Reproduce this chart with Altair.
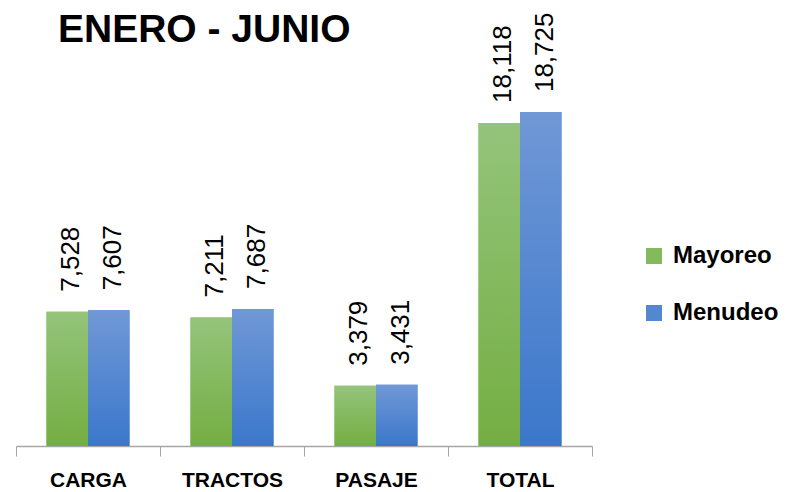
import altair as alt
import pandas as pd

title_text = ["ENERO - JUNIO"]
categories = ["CARGA", "TRACTOS", "PASAJE", "TOTAL"]
series = ["Mayoreo", "Menudeo"]
mayoreo = [7528, 7211, 3379, 18118]
menudeo = [7607, 7687, 3431, 18725]

rows = []
for c, a, b in zip(categories, mayoreo, menudeo):
    rows.append({"cat": c, "serie": "Mayoreo", "valor": a})
    rows.append({"cat": c, "serie": "Menudeo", "valor": b})
df = pd.DataFrame(rows)

FONT = "Liberation Sans"

green_grad = alt.Gradient(gradient="linear", x1=0, x2=0, y1=0, y2=1,
                          stops=[alt.GradientStop(offset=0, color="#94C47B"),
                                 alt.GradientStop(offset=1, color="#74AE42")])
blue_grad = alt.Gradient(gradient="linear", x1=0, x2=0, y1=0, y2=1,
                         stops=[alt.GradientStop(offset=0, color="#7098D6"),
                                alt.GradientStop(offset=1, color="#3B77CA")])

x_enc = alt.X("cat:N", sort=categories,
              scale=alt.Scale(paddingInner=0, paddingOuter=0),
              axis=alt.Axis(title=None, labelAngle=0, labelFont=FONT, labelFontWeight="bold",
                            labelFontSize=21, labelColor="#000000", labelPadding=13,
                            tickBand="extent", tickSize=10, tickColor="#A6A6A6",
                            domainColor="#A6A6A6", domainWidth=1.5))
xo_enc = alt.XOffset("serie:N", sort=series,
                     scale=alt.Scale(paddingInner=0, paddingOuter=0.735))
y_enc = alt.Y("valor:Q", scale=alt.Scale(domain=[0, 24000], nice=False),
              axis=None)

base = alt.Chart(df)

legend_bars = base.mark_bar().encode(
    x=x_enc, xOffset=xo_enc, y=y_enc,
    color=alt.Color("serie:N", sort=series,
                    scale=alt.Scale(domain=series, range=["#85B95E", "#5587D0"]),
                    legend=alt.Legend(title=None, orient="none", legendX=626, legendY=226,
                                      symbolType="square", symbolSize=256,
                                      symbolStrokeWidth=0, labelFont=FONT,
                                      labelFontWeight="bold", labelFontSize=24,
                                      labelColor="#000000", labelOffset=7,
                                      rowPadding=33, padding=0)),
)

grad_m = base.transform_filter(alt.datum.serie == "Mayoreo").mark_bar(color=green_grad).encode(
    x=x_enc, xOffset=xo_enc, y=y_enc)
grad_n = base.transform_filter(alt.datum.serie == "Menudeo").mark_bar(color=blue_grad).encode(
    x=x_enc, xOffset=xo_enc, y=y_enc)

labels = base.mark_text(angle=270, align="left", baseline="middle", dx=20, dy=4,
                        font=FONT, fontSize=26, color="#000000").encode(
    x=x_enc, xOffset=xo_enc, y=y_enc,
    text=alt.Text("valor:Q", format=","))

title = alt.Chart(pd.DataFrame({"t": title_text})).mark_text(
    align="left", baseline="alphabetic", font=FONT, fontSize=39, fontWeight="bold",
    color="#000000").encode(text="t:N", x=alt.value(42), y=alt.value(24))

chart = alt.layer(legend_bars, grad_m, grad_n, labels, title).properties(
    width=576, height=428,
    background="#FFFFFF",
    autosize=alt.AutoSizeParams(type="none"),
    padding={"left": 8, "top": 10, "right": 188, "bottom": 44},
).configure_view(strokeWidth=0, stroke="transparent")

chart.save("out.html", embed_options={"renderer": "svg", "actions": False})
